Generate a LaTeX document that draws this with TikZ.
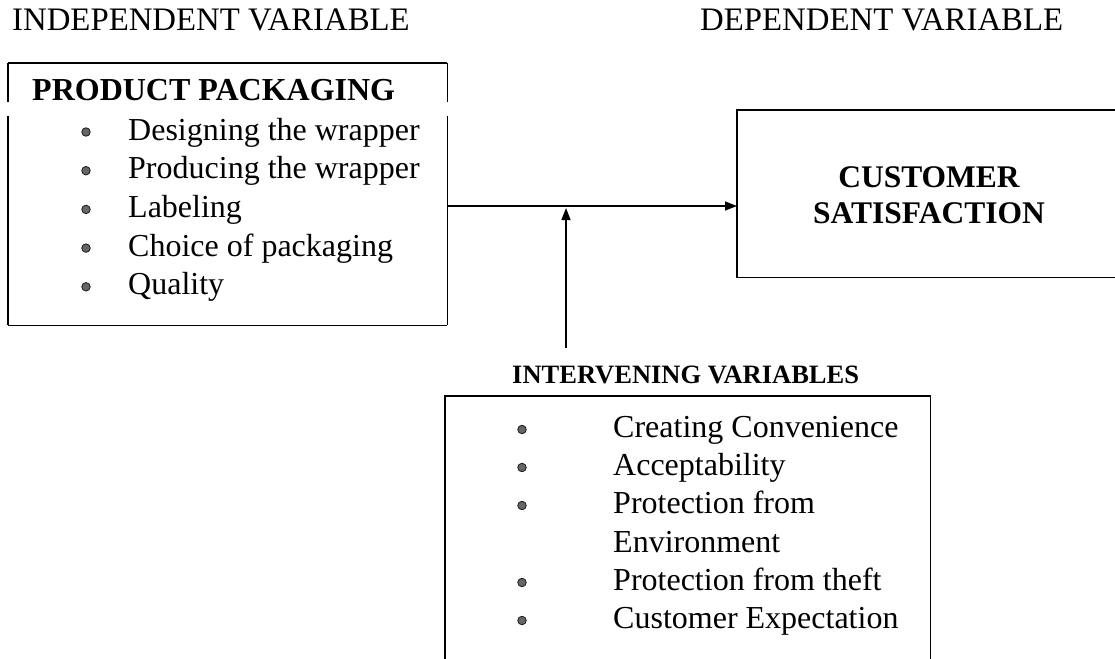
\documentclass[tikz,border=0pt]{standalone}
\usepackage{fontspec}
\setmainfont{Liberation Serif}
\usetikzlibrary{arrows.meta}
\begin{document}
\begin{tikzpicture}[x=1pt,y=-1pt,
  lbl/.style={inner sep=0pt, anchor=base west, font=\fontsize{32}{38}\selectfont},
  ttl/.style={lbl, font=\fontsize{32.8}{38}\selectfont},
  hdr/.style={lbl, font=\fontsize{32}{38}\selectfont\bfseries},
  ivhdr/.style={lbl, font=\fontsize{26.5}{32}\selectfont\bfseries},
  cstxt/.style={inner sep=0pt, anchor=base, font=\fontsize{31.5}{37}\selectfont\bfseries},
  bul/.style={circle, inner sep=0pt, minimum size=8.5pt, fill=black!60, draw=black!90, line width=0.8pt},
  boxarea/.style={draw=none, inner sep=0pt, anchor=north west},
  frame/.style={line width=1.6pt, black},
  arr/.style={line width=1.5pt, black, -{Triangle[length=12pt,width=9pt]}}]
\useasboundingbox (0,0) rectangle (1115,658);

% headings
\node[ttl] (indep) at (12,31) {INDEPENDENT VARIABLE};
\node[ttl] (dep) at (700,31) {DEPENDENT VARIABLE};

% product packaging box
\node[boxarea, minimum width=439pt, minimum height=262pt] (ppbox) at (8,63) {};
\coordinate (gapA) at (0,102);
\coordinate (gapB) at (0,116);
\draw[frame] (ppbox.north west) -- (ppbox.north east);
\draw[frame] (ppbox.south west) -- (ppbox.south east);
\draw[frame] (ppbox.north west) -- (ppbox.north west |- gapA);
\draw[frame] (ppbox.south west |- gapB) -- (ppbox.south west);
\draw[frame] (ppbox.north east) -- (ppbox.north east |- gapA);
\draw[frame] (ppbox.south east |- gapB) -- (ppbox.south east);

\node[hdr] (pptitle) at (32,101) {PRODUCT PACKAGING};
\node[bul] (pb1) at (86,132) {};
\node[bul] (pb2) at (86,170.7) {};
\node[bul] (pb3) at (86,209.4) {};
\node[bul] (pb4) at (86,248.1) {};
\node[bul] (pb5) at (86,286.8) {};
\node[lbl] (pi1) at (128,140) {Designing the wrapper};
\node[lbl] (pi2) at (128,178.7) {Producing the wrapper};
\node[lbl] (pi3) at (128,217.4) {Labeling};
\node[lbl] (pi4) at (128,256.1) {Choice of packaging};
\node[lbl] (pi5) at (128,294.8) {Quality};

% customer satisfaction box
\node[boxarea, minimum width=400pt, minimum height=167pt] (csbox) at (737,110) {};
\draw[frame] (csbox.north east) -- (csbox.north west) -- (csbox.south west) -- (csbox.south east);
\node[cstxt] (cs1) at (929,187) {CUSTOMER};
\node[cstxt] (cs2) at (929,223) {SATISFACTION};

% intervening variables
\node[ivhdr] (ivtitle) at (512,383) {INTERVENING VARIABLES};
\node[boxarea, minimum width=485pt, minimum height=290pt] (ivbox) at (445,396) {};
\draw[frame] (ivbox.south west) -- (ivbox.north west) -- (ivbox.north east) -- (ivbox.south east);
\node[bul] (ib1) at (522,429.5) {};
\node[bul] (ib2) at (522,467.5) {};
\node[bul] (ib3) at (522,505.5) {};
\node[bul] (ib4) at (522,582.5) {};
\node[bul] (ib5) at (522,620.5) {};
\node[lbl] (ii1) at (613,437) {Creating Convenience};
\node[lbl] (ii2) at (613,475) {Acceptability};
\node[lbl] (ii3) at (613,513) {Protection from};
\node[lbl] (ii3b) at (613,552) {Environment};
\node[lbl] (ii4) at (613,590) {Protection from theft};
\node[lbl] (ii5) at (613,628) {Customer Expectation};

% connectors
\coordinate (ay) at (0,206);
\coordinate (vs) at (566,348);
\draw[arr] (ppbox.east |- ay) -- (csbox.west |- ay);
\draw[arr, shorten >=2pt] (vs) -- (vs |- ay);
\end{tikzpicture}
\end{document}
